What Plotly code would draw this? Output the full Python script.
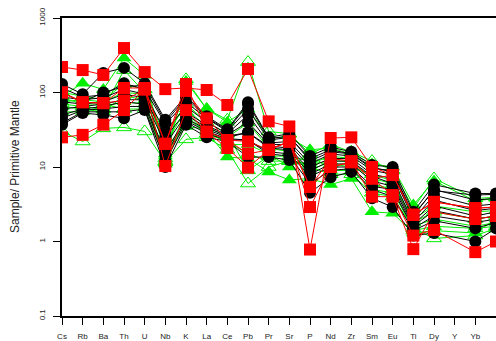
import plotly.graph_objects as go

elements = ["Cs", "Rb", "Ba", "Th", "U", "Nb", "K", "La", "Ce", "Pb", "Pr",
            "Sr", "P", "Nd", "Zr", "Sm", "Eu", "Ti", "Dy", "Y", "Yb", "Lu"]

N = None
black_series = [
    [130, 95, 183, 214, 133, 43, 90, 48, 32, 74, 25, 28, 14, 18.5, 16, 10.6, 10, 2.5, 5.8, N, 4.4, 4.4],
    [115, 87, 93, 133, 110, 38, 74, 45, 30, 60, 23, 25, 13, 17, 15, 10, 8.5, 2.2, 5.0, N, 3.6, 3.8],
    [87, 80, 85, 110, 95, 30, 65, 40, 28, 50, 21, 22, 11, 15, 14, 9, 8, 2.0, 4.2, N, 3.0, 3.2],
    [75, 70, 75, 95, 85, 25, 55, 36, 27, 40, 20, 20, 10, 13, 13, 8, 7, 1.8, 3.6, N, 2.6, 2.8],
    [60, 65, 70, 80, 80, 20, 50, 34, 26, 29, 19, 18, 9, 12, 12, 7.5, 6, 1.7, 3.0, N, 2.2, 2.5],
    [50, 60, 65, 75, 70, 16, 45, 32, 25, 29, 18, 17, 8, 11, 11, 6.5, 5.5, 1.6, 2.6, N, 2.0, 2.2],
    [45, 58, 60, 65, 65, 14.5, 42, 30, 24, 23, 16, 15, 7.5, 10, 10, 5.5, 5, 1.5, 2.2, N, 1.8, 2.0],
    [39, 55, 55, 55, 60, 12, 40, 28, 23, 23, 15, 14, 6, 9, 9.5, 5, 4, 1.4, 1.9, N, 1.5, 1.8],
    [37, 53, 50, 45, 58, 10, 37, 25, 22, 13.6, 13.6, 12.4, 4.5, 7.3, 8.6, 3.8, 2.9, 1.2, 1.3, N, 1.0, 1.5],
    [100, 75, 100, 120, 125, 40, 85, 46, 31, 70, 24, 26, 12, 16, 15, 9.5, 9, 2.3, 4.8, N, 4.2, 4.3],
]

green_filled = [
    [90, 133, 110, 290, 170, 14, 140, 60, 40, 60, 25, 25, 17, 18, 15, 11, 10, 3.1, 6.5, N, 3.5, 3.8],
    [65, 60, 55, 90, 80, 11, 45, 30, 13.6, 13, 8.6, 6.7, 7, 5.8, 7, 2.5, 2.4, 1.3, 1.4, N, 1.3, 2.0],
    [75, 80, 75, 100, 95, 20, 60, 35, 25, 39, 18, 16, 9, 12, 12, 7, 6, 2.0, 3.0, N, 2.5, 2.6],
    [55, 55, 65, 75, 70, 15, 35, 32, 20, 20, 15, 10, 15, 9, 9, 5, 4.5, 1.6, 2.0, N, 1.6, 1.8],
]

green_open = [
    [30, 22, 33, 34, 30, 11.6, 23.5, 25, 17, 6, 10, 12, 10, 8, 8, 4.5, 4, 1.5, 1.1, N, 1.2, 1.5],
    [70, 65, 60, 200, 100, 12, 150, 60, 43, 256, 30, 28, 15, 20, 16, 12, 9, 2.8, 7, N, 3.8, 3.9],
    [100, 90, 80, 130, 110, 25, 70, 40, 28, 9, 14, 14, 12, 11, 10, 8, 6.5, 1.8, 2.5, N, 2.0, 2.2],
    [85, 70, 70, 60, 60, 13, 55, 28, 22, 15, 12, 12, 11, 14, 13, 6, 5, 1.4, 1.6, N, 1.5, 1.6],
]

red_series = [
    [220, 200, 172, 395, 188, 111, 115, 108, 68, 207, 41, 35, 0.78, 24.5, 25, 10, 7.8, 2.3, 3.4, N, 2.8, 2.9],
    [100, 74, 72, 115, 115, 20.5, 130, 30, 23, 22, 17, 22, 2.9, 10, 11.6, 7, 4.2, 1.2, 1.43, N, 0.72, 1.0],
    [25, 27, 37, 58, 110, 10.3, 58, 29.5, 18, 9.8, 17, 22, 5.4, 13, 12, 4, 4, 0.79, 2.5, N, 2.0, 2.2],
    [100, 74, 72, 78, 110, 20.5, 105, 45, 23, 15, 17, 22, 5.4, 10, 11.6, 7, 7.8, 2.27, 3.4, N, 2.8, 2.9],
]

y_tickvals = [0.1, 1, 10, 100, 1000]
y_ticktext = ["0.1", "1", "10", "100", "1000"]

xs = list(range(len(elements)))
GREEN = "#00ee00"
fig = go.Figure()

for s in green_filled:
    fig.add_trace(go.Scatter(x=xs, y=s, mode="lines+markers", connectgaps=True,
                             line=dict(color=GREEN, width=1),
                             marker=dict(symbol="triangle-up", size=13, color=GREEN),
                             showlegend=False))
for s in green_open:
    fig.add_trace(go.Scatter(x=xs, y=s, mode="lines+markers", connectgaps=True,
                             line=dict(color=GREEN, width=1),
                             marker=dict(symbol="triangle-up-open", size=13, color=GREEN,
                                         line=dict(color=GREEN, width=1)),
                             showlegend=False))
for s in black_series:
    fig.add_trace(go.Scatter(x=xs, y=s, mode="lines+markers", connectgaps=True,
                             line=dict(color="black", width=1),
                             marker=dict(symbol="circle", size=12, color="black"),
                             showlegend=False))
for s in red_series:
    fig.add_trace(go.Scatter(x=xs, y=s, mode="lines+markers", connectgaps=True,
                             line=dict(color="red", width=1),
                             marker=dict(symbol="square", size=12, color="red"),
                             showlegend=False))

FONT = "Liberation Sans, Arial, sans-serif"
fig.update_layout(
    width=496, height=341,
    margin=dict(l=62, r=0, t=18, b=25, autoexpand=False),
    paper_bgcolor="white", plot_bgcolor="white",
    font=dict(family=FONT, color="#222", size=8),
    showlegend=False,
    xaxis=dict(range=[0, 21], tickvals=xs, ticktext=elements,
               automargin=False,
               showgrid=False, zeroline=False,
               showline=True, mirror=True, linecolor="black", linewidth=1.5,
               ticks="outside", ticklen=7, tickcolor="black", tickwidth=1,
               ticklabelstandoff=5,
               tickfont=dict(size=8, family=FONT, color="#222")),
    yaxis=dict(type="log", range=[-1, 3], tickvals=y_tickvals, ticktext=y_ticktext,
               automargin=False,
               showgrid=False, zeroline=False,
               showline=True, mirror=True, linecolor="black", linewidth=1.5,
               ticks="outside", ticklen=7, tickcolor="black", tickwidth=1,
               tickangle=-90, ticklabelstandoff=5,
               tickfont=dict(size=8, family=FONT, color="#222")),
    annotations=[dict(text="Sample/ Primitive Mantle", xref="paper", yref="paper",
                      x=0, y=0.5, xshift=-47, xanchor="center", yanchor="middle",
                      textangle=-90, showarrow=False,
                      font=dict(size=12, family=FONT, color="#222"))],
)

fig.write_html("out.html")
